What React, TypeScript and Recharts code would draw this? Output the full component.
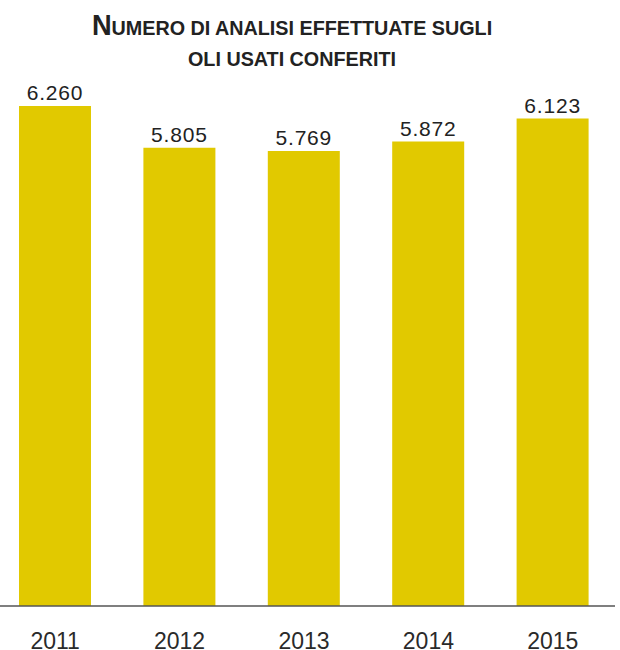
import React from "react";
import { BarChart, Bar, XAxis, YAxis, LabelList } from "recharts";

const years = ["2011", "2012", "2013", "2014", "2015"];
const analisi = [6260, 5805, 5769, 5872, 6123];

const data = years.map((anno, i) => ({ anno, analisi: analisi[i] }));

const fmt = (v: number) => v.toLocaleString("it-IT");

const font = '"Liberation Sans", Arial, sans-serif';

export default function App() {
  return (
    <div
      style={{
        position: "absolute",
        left: 0,
        top: 0,
        width: 620,
        height: 650,
        background: "#fff",
        fontFamily: font,
      }}
    >
      <div
        style={{
          position: "absolute",
          left: 0,
          top: 10,
          width: 584,
          textAlign: "center",
          fontFamily: font,
          fontWeight: "bold",
          fontSize: 21,
          lineHeight: "31px",
          color: "#222",
          transform: "scaleX(0.94)",
          transformOrigin: "292px 0",
        }}
      >
        <div>
          <span style={{ fontSize: 29 }}>N</span>UMERO DI ANALISI EFFETTUATE SUGLI
        </div>
        <div>OLI USATI CONFERITI</div>
      </div>
      <BarChart
        width={620}
        height={650}
        data={data}
        margin={{ top: 106, right: 5, left: -7, bottom: 4 }}
        barCategoryGap={0}
      >
        <XAxis
          dataKey="anno"
          height={40}
          tickLine={false}
          tickMargin={21}
          axisLine={{ stroke: "#555", strokeWidth: 1.5 }}
          tick={{ fontSize: 23, fill: "#2a2a2a", fontFamily: font }}
        />
        <YAxis hide domain={[800, 6260]} />
        <Bar dataKey="analisi" fill="#E1C900" barSize={72} isAnimationActive={false}>
          <LabelList
            dataKey="analisi"
            position="top"
            offset={6}
            formatter={(v: number) => fmt(v)}
            style={{ fontSize: 21, fill: "#222", fontFamily: font, letterSpacing: 0.8 }}
          />
        </Bar>
      </BarChart>
    </div>
  );
}
